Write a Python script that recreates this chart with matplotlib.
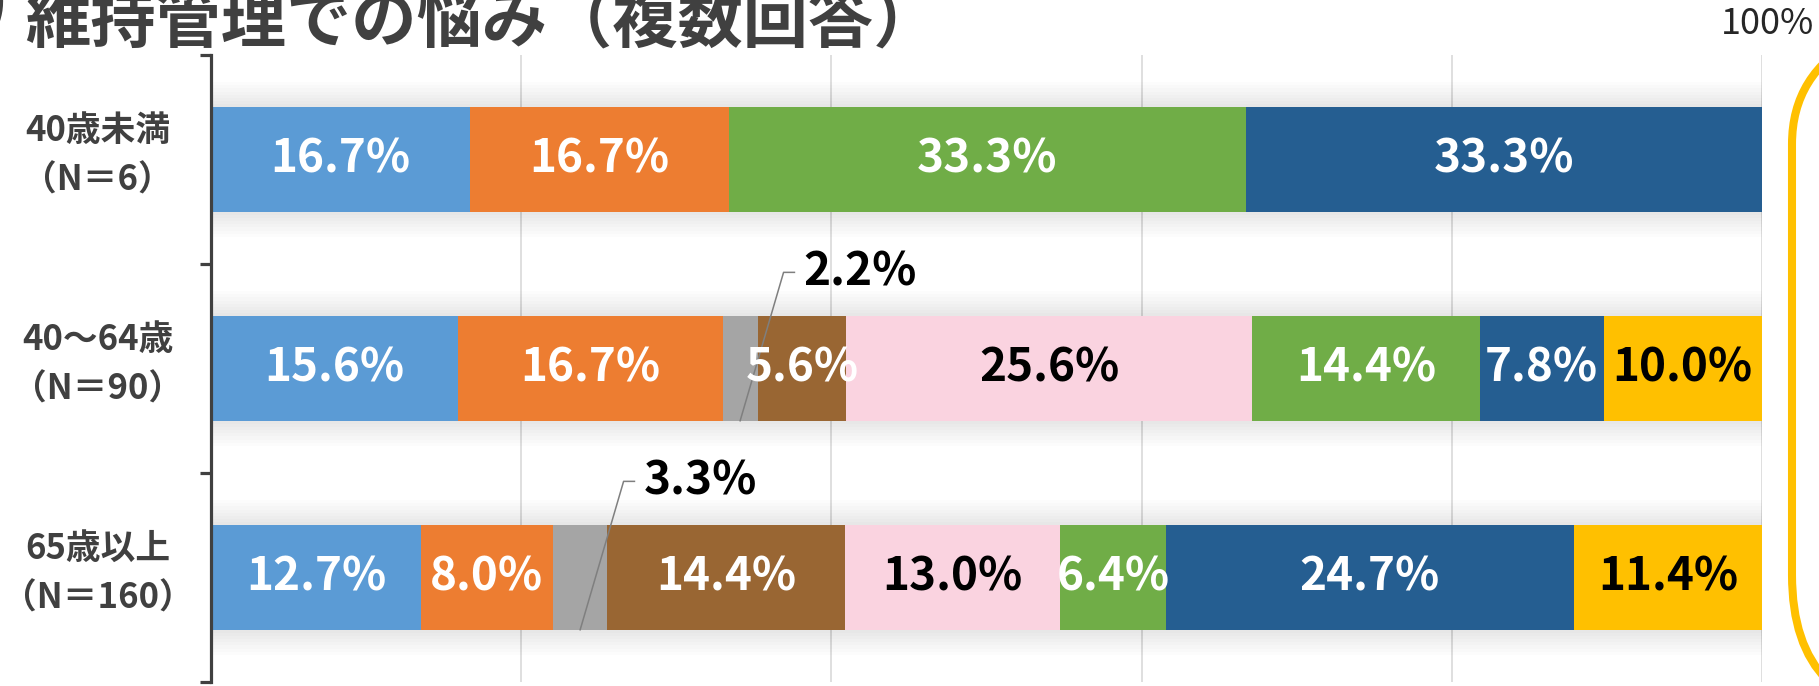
# 維持管理での悩み（複数回答）: 年齢層別の100%積み上げ横棒グラフ
import numpy as np
import matplotlib
matplotlib.use("Agg")
import matplotlib.pyplot as plt
from matplotlib.patches import FancyBboxPatch
from matplotlib.transforms import IdentityTransform, blended_transform_factory

plt.rcParams['font.family'] = ['Noto Sans CJK JP', 'DejaVu Sans']

# データ
grupos = ['40歳未満\n（N＝6）', '40～64歳\n（N＝90）', '65歳以上\n（N＝160）']
azul = [16.7, 15.6, 12.7]
naranja = [16.7, 16.7, 8.0]
gris = [0.0, 2.2, 3.3]
marron = [0.0, 5.6, 14.4]
rosa = [0.0, 25.6, 13.0]
verde = [33.3, 14.4, 6.4]
azul_osc = [33.3, 7.8, 24.7]
amarillo = [0.0, 10.0, 11.4]

series = [azul, naranja, gris, marron, rosa, verde, azul_osc, amarillo]
colores = ['#5B9BD5', '#ED7D31', '#A5A5A5', '#996633',
           '#FAD3E0', '#70AD47', '#255E91', '#FFC000']
color_texto = ['white', 'white', 'black', 'white',
               'black', 'white', 'white', 'black']

W, H = 1819, 686
fig = plt.figure(figsize=(W / 100, H / 100), dpi=100)
ax = fig.add_axes([211 / W, 4 / H, (1762 - 211) / W, (682 - 55) / H])

datos = np.array(series)          # (serie, fila)
totales = datos.sum(axis=0)
porc = datos / totales * 100      # Excel normaliza cada fila a 100%
y = np.arange(len(grupos))
alto = 0.5

# sombra suave detras de las barras
for k in range(1, 9):
    ax.barh(y, 100, height=alto + 0.03 * k, color='black', alpha=0.012,
            zorder=1.5, linewidth=0)

izq = np.zeros(len(grupos))
for s in range(len(series)):
    ax.barh(y, porc[s], left=izq, height=alto, color=colores[s],
            zorder=2, linewidth=0)
    for i in range(len(grupos)):
        v = datos[s, i]
        if v <= 0:
            continue
        if s == 2:
            # etiqueta fuera con linea guia
            mx = izq[i] + porc[s, i] / 2
            yt = i - 0.46
            ax.plot([mx, mx + 2.8, mx + 3.5], [i + alto / 2, yt, yt],
                    color='#7F7F7F', lw=1.1, zorder=3)
            ax.text(mx + 4.1, yt, f'{v:.1f}%', ha='left', va='center',
                    fontsize=33, fontweight='bold', color='black', zorder=4)
        else:
            ax.text(izq[i] + porc[s, i] / 2, i, f'{v:.1f}%',
                    ha='center', va='center', fontsize=33, fontweight='bold',
                    color=color_texto[s], zorder=4)
    izq = izq + porc[s]

ax.set_xlim(0, 100)
ax.set_ylim(len(grupos) - 0.5, -0.5)
ax.set_xticks([20, 40, 60, 80, 100])
ax.xaxis.grid(True, color='#D9D9D9', lw=1.2, zorder=0)
ax.set_axisbelow(True)
ax.tick_params(axis='x', length=0, labelbottom=False)
for lado in ['top', 'right', 'bottom']:
    ax.spines[lado].set_visible(False)
ax.spines['left'].set_color('#404040')
ax.spines['left'].set_linewidth(2.3)

# marcas entre categorias
ax.set_yticks([])
ax.set_yticks(np.arange(len(grupos) + 1) - 0.5, minor=True)
ax.tick_params(axis='y', which='minor', direction='out', length=8,
               width=2.3, color='#404040', labelleft=False)

trans = blended_transform_factory(ax.transAxes, ax.transData)
for i, g in enumerate(grupos):
    ax.text(-0.073, i - 0.02, g, transform=trans, ha='center', va='center',
            ma='center', fontsize=25, fontweight='bold', color='#404040',
            linespacing=1.55)

# etiqueta 100% (eje superior)
fig.text(1767 / W, 1 - 24 / H, '100%', ha='center', va='center',
         fontsize=26, color='#262626')

# titulo recortado
fig.text(25 / W, 1 - 42 / H, '維持管理での悩み（複数回答）', ha='left',
         va='baseline', fontsize=47, fontweight='bold', color='#404040')
fig.text(8 / W, 1 - 22 / H, ')', ha='right', va='baseline',
         fontsize=47, fontweight='bold', color='#404040')

# marco amarillo redondeado (cortado a la derecha)
marco = FancyBboxPatch((1792, H - 715), 400, 711,
                       boxstyle='round,pad=0,rounding_size=140',
                       transform=IdentityTransform(), fill=False,
                       edgecolor='#FFC000', linewidth=5.8)
fig.patches.append(marco)

fig.savefig('out.png', dpi=100)
